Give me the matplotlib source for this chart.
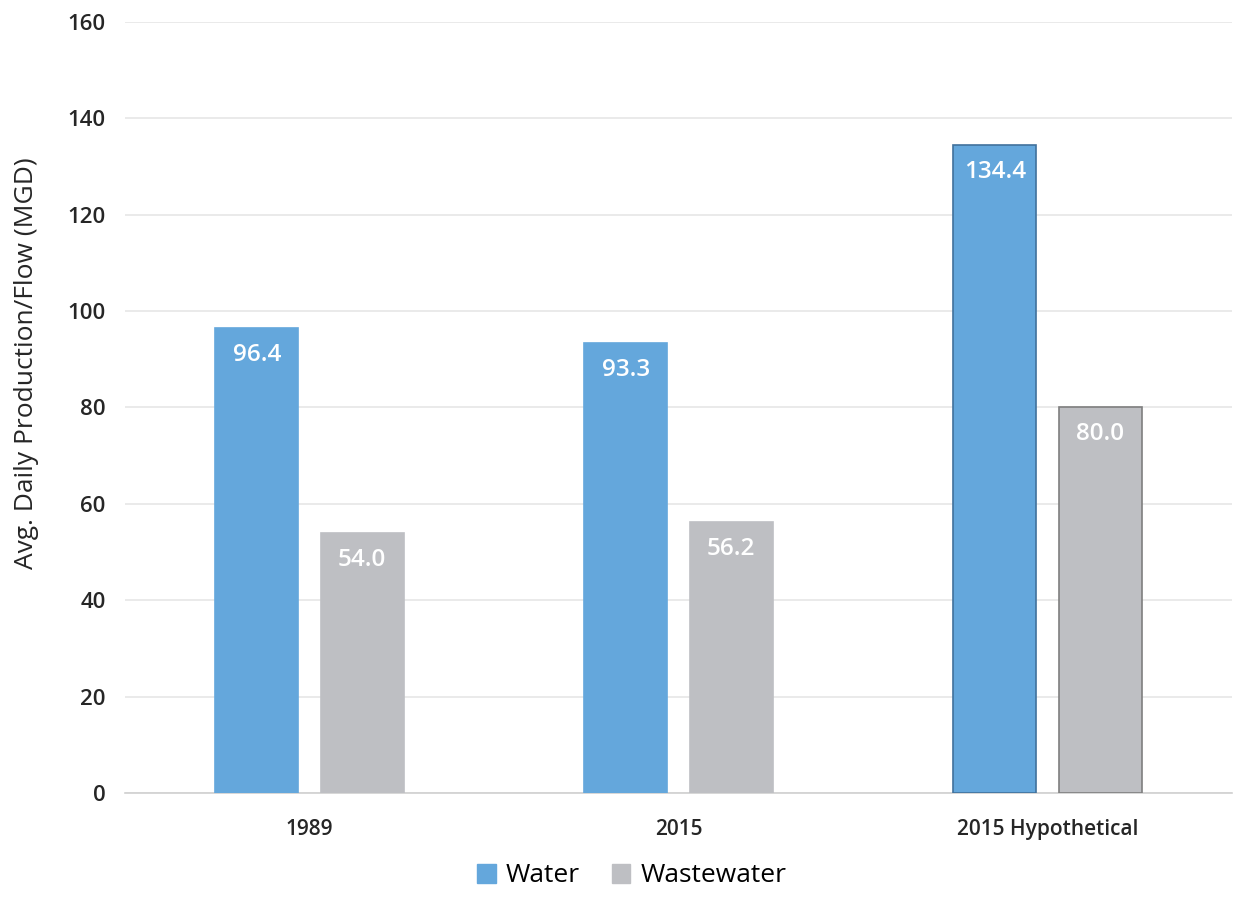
import numpy as np
import matplotlib.pyplot as plt
from matplotlib.patches import Patch

categories = ["1989", "2015", "2015 Hypothetical"]
water = [96.4, 93.3, 134.4]
wastewater = [54.0, 56.2, 80.0]

plt.rcParams['font.family'] = ['Open Sans', 'DejaVu Sans']

blue = "#64A7DC"
gray = "#BEBFC3"

fig = plt.figure(figsize=(12.37, 9.01), dpi=100)
ax = fig.add_axes([125 / 1237, 108 / 901, 1107 / 1237, 771 / 901])

x = np.arange(len(categories))
w = 0.225
gap = 0.06
off = (w + gap) / 2

edge_w = [blue, blue, "#41719C"]
edge_ww = [gray, gray, "#7F7F7F"]
bw = ax.bar(x - off, water, w, color=blue, edgecolor=edge_w, linewidth=1.2, zorder=3)
bww = ax.bar(x + off, wastewater, w, color=gray, edgecolor=edge_ww, linewidth=1.2, zorder=3)

for bars, vals in [(bw, water), (bww, wastewater)]:
    for b, v in zip(bars, vals):
        ax.text(b.get_x() + b.get_width() / 2, v - 5.6, f"{v:.1f}",
                ha="center", va="center", color="white", fontsize=17.5,
                fontweight="semibold", zorder=4)

ax.set_xlim(-0.5, 2.5)
ax.set_ylim(0, 160)
ax.set_yticks(range(0, 161, 20))
ax.set_xticks(x)
ax.set_xticklabels(categories, fontsize=15, fontweight="semibold")
for lab in ax.get_yticklabels():
    lab.set_fontweight("semibold")
ax.tick_params(axis="y", labelsize=16, length=0, pad=14)
ax.tick_params(axis="x", length=0, pad=19)
for lab in ax.get_yticklabels() + ax.get_xticklabels():
    lab.set_color("#262626")

ax.grid(axis="y", color="#E6E6E6", linewidth=1.2, zorder=0)
for s in ["top", "right", "left"]:
    ax.spines[s].set_visible(False)
ax.spines["bottom"].set_color("#D0D0D0")
ax.spines["bottom"].set_linewidth(1.2)

fig.text(27 / 1237, 1 - 363 / 901, "Avg. Daily Production/Flow (MGD)", rotation=90,
         ha="center", va="center", fontsize=19, color="#262626")

handles = [Patch(color=blue, label="Water"), Patch(color=gray, label="Wastewater")]
fig.legend(handles=handles, loc="center", bbox_to_anchor=(632 / 1237, 1 - 876 / 901),
           ncol=2, frameon=False, fontsize=19, handlelength=0.7, handleheight=0.7,
           columnspacing=1.2, handletextpad=0.4)

fig.savefig("out.png", dpi=100)
